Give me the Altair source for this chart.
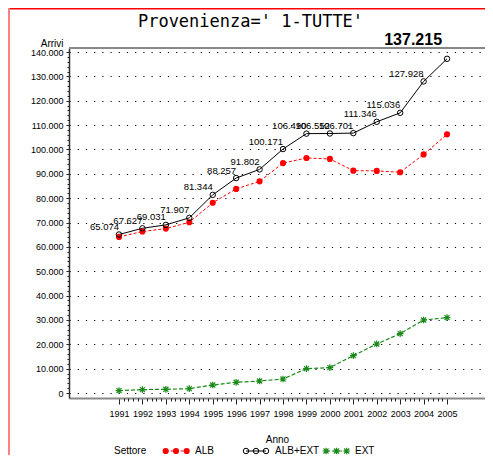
import altair as alt
import pandas as pd

# ---- data ----
years = [1991, 1992, 1993, 1994, 1995, 1996, 1997, 1998, 1999, 2000, 2001, 2002, 2003, 2004, 2005]
alb = [64100, 66300, 67500, 70100, 78100, 83800, 86900, 94400, 96490, 96100, 91300, 91200, 90650, 97950, 106200]
alb_ext = [65074, 67627, 69031, 71907, 81344, 88257, 91802, 100171, 106490, 106552, 106701, 111346, 115036, 127928, 137215]
ext = [985, 1400, 1520, 1800, 3280, 4390, 4930, 5750, 10000, 10430, 15350, 20130, 24380, 29970, 30950]
series = ["ALB", "ALB+EXT", "EXT"]
y_ticks = [0, 10000, 20000, 30000, 40000, 50000, 60000, 70000, 80000, 90000, 100000, 110000, 120000, 130000, 140000]
y_minor = [v for v in range(0, 140001, 2000)]
x_minor = [y + k / 5 for y in years[:-1] for k in range(1, 5)]
title_text = "Provenienza=' 1-TUTTE'"

rows = []
for name, vals in zip(series, [alb, alb_ext, ext]):
    for yr, v in zip(years, vals):
        rows.append({"Anno": yr, "Arrivi": v, "Settore": name})
df = pd.DataFrame(rows)
one = pd.DataFrame({"d": [0]})

W, H = 416, 350
FONT = "Liberation Sans"
RED, BLACK, GREEN = "#ff0000", "#000000", "#1a8a1a"
ASTER = "M0,-1L0,1M-1,0L1,0M-0.75,-0.75L0.75,0.75M-0.75,0.75L0.75,-0.75"

xs = alt.Scale(domain=[1988.866, 2006.62], nice=False, zero=False)
ys = alt.Scale(domain=[-2050, 141650], nice=False, zero=False)

base = alt.Chart(df)


def sel(name):
    return base.transform_filter(alt.datum.Settore == name)


x_none = alt.X("Anno:Q", scale=xs, axis=None)
y_none = alt.Y("Arrivi:Q", scale=ys, axis=None)

main_x = alt.X("Anno:Q", scale=xs, axis=alt.Axis(
    values=years, format="d", title="Anno", titleY=44, titleBaseline="alphabetic",
    titleFont=FONT, titleFontSize=10, titleFontWeight="normal", titleColor="#000",
    labelFont=FONT, labelFontSize=9, labelColor="#000", labelPadding=5,
    tickSize=6, tickColor="#222", domainColor="#888", domainWidth=2, grid=False,
    labelOverlap=False))
main_y = alt.Y("Arrivi:Q", scale=ys, axis=alt.Axis(
    values=y_ticks, format=",d", title="Arrivi", titleAngle=0, titleAlign="right",
    titleX=-6, titleY=-2, titleBaseline="alphabetic", titleFont=FONT, titleFontSize=10,
    titleFontWeight="normal", titleColor="#000",
    labelFont=FONT, labelFontSize=9, labelColor="#000", labelPadding=3,
    tickSize=3, tickColor="#222", domainColor="#333", domainWidth=1.5,
    grid=True, gridColor="#000", gridDash=[1.2, 7], gridWidth=1, gridOpacity=1,
    labelOverlap=False))

line_ae = sel("ALB+EXT").mark_line(color=BLACK, strokeWidth=1).encode(x=main_x, y=main_y)
pts_ae = sel("ALB+EXT").mark_point(shape="circle", filled=False, size=30, color=BLACK,
                                   strokeWidth=1, opacity=1).encode(x=x_none, y=y_none)
line_ab = sel("ALB").mark_line(color=RED, strokeWidth=1, strokeDash=[3, 2]).encode(x=x_none, y=y_none)
pts_ab = sel("ALB").mark_point(shape="circle", filled=True, size=38, color=RED,
                               opacity=1).encode(x=x_none, y=y_none)
line_ex = sel("EXT").mark_line(color=GREEN, strokeWidth=1.2, strokeDash=[4, 2]).encode(x=x_none, y=y_none)
pts_ex = sel("EXT").mark_point(shape=ASTER, filled=False, size=45, color=GREEN,
                               strokeWidth=1.2, opacity=1).encode(x=x_none, y=y_none)

lab_ae = sel("ALB+EXT").transform_filter(alt.datum.Anno < 2005).mark_text(
    align="right", baseline="alphabetic", dx=0, dy=-4.5, font=FONT, fontSize=9.5, color="#000"
).encode(x=x_none, y=y_none, text=alt.Text("Arrivi:Q", format=",d"))
lab_last = sel("ALB+EXT").transform_filter(alt.datum.Anno == 2005).mark_text(
    align="right", baseline="alphabetic", dx=-5, font=FONT, fontSize=16, fontWeight="bold", color="#000"
).encode(x=x_none, y=alt.value(-3), text=alt.Text("Arrivi:Q", format=",d"))

minor = base.mark_point(opacity=0).encode(
    x=alt.X("Anno:Q", scale=xs, axis=alt.Axis(values=x_minor, labels=False, tickSize=3, tickColor="#222",
                                              domain=False, grid=False, title=None, orient="bottom")),
    y=alt.Y("Arrivi:Q", scale=ys, axis=alt.Axis(values=y_minor, labels=False, tickSize=2, tickColor="#222",
                                                domain=False, grid=False, title=None, orient="left")),
)

deco = alt.Chart(one)
top_border = deco.mark_rule(color="#888", strokeWidth=2).encode(
    x=alt.value(0), x2=alt.value(W), y=alt.value(0))
frame_top = deco.mark_rule(color="#ff0000", strokeWidth=1.5).encode(
    x=alt.value(-61), x2=alt.value(W), y=alt.value(-39.3))
frame_left = deco.mark_rule(color="#ff8080", strokeWidth=2).encode(
    x=alt.value(-60), y=alt.value(-40), y2=alt.value(H + 57))
title = deco.mark_text(text=title_text, font="DejaVu Sans Mono", fontSize=17, align="center",
                       baseline="alphabetic", color="#000").encode(x=alt.value(181.5), y=alt.value(-21))

LY = 403
legend_layers = [deco.mark_text(text="Settore", font=FONT, fontSize=10, align="left", baseline="middle",
                                color="#000").encode(x=alt.value(45), y=alt.value(LY))]
leg_spec = [
    ("ALB", [96.7, 107, 117.7], 126, dict(color=RED, strokeWidth=1, strokeDash=[3, 2]),
     dict(shape="circle", filled=True, size=38, color=RED, opacity=1)),
    ("ALB+EXT", [177, 187, 197], 206, dict(color=BLACK, strokeWidth=1),
     dict(shape="circle", filled=False, size=30, color=BLACK, strokeWidth=1, opacity=1)),
    ("EXT", [257, 267.5, 277.7], 286, dict(color=GREEN, strokeWidth=1.2, strokeDash=[4, 2]),
     dict(shape=ASTER, filled=False, size=45, color=GREEN, strokeWidth=1.2, opacity=1)),
]
for name, px, tx, lstyle, pstyle in leg_spec:
    legend_layers.append(deco.mark_rule(**lstyle).encode(x=alt.value(px[0]), x2=alt.value(px[-1]), y=alt.value(LY)))
    for p in px:
        legend_layers.append(deco.mark_point(**pstyle).encode(x=alt.value(p), y=alt.value(LY)))
    legend_layers.append(deco.mark_text(text=name, font=FONT, fontSize=10, align="left", baseline="middle",
                                        color="#000").encode(x=alt.value(tx), y=alt.value(LY)))

chart = alt.layer(
    line_ae, minor, line_ab, line_ex, pts_ab, pts_ae, pts_ex, lab_ae, lab_last,
    top_border, frame_top, frame_left, title, *legend_layers
).resolve_axis(x="independent", y="independent").properties(
    width=W, height=H,
    padding={"left": 61, "top": 40, "right": 0, "bottom": 57},
    autosize=alt.AutoSizeParams(type="none"),
    background="white",
).configure(
    locale={"number": {"decimal": ",", "thousands": ".", "grouping": [3], "currency": ["", " €"]}}
).configure_view(stroke=None)

chart.save("out.html", embed_options={"renderer": "svg", "actions": False})
